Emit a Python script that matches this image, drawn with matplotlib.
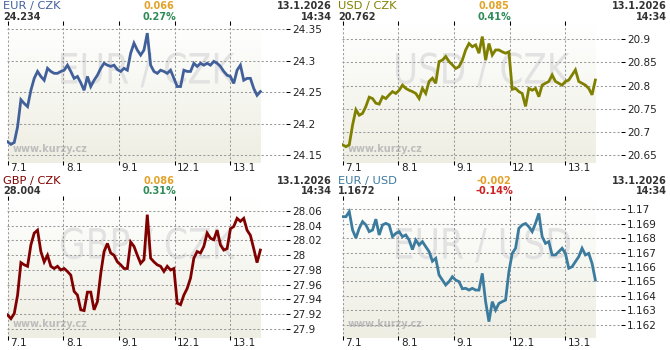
import numpy as np
import matplotlib
matplotlib.use("Agg")
import matplotlib.pyplot as plt
from matplotlib.textpath import TextPath
from matplotlib.patches import PathPatch
from matplotlib.font_manager import FontProperties
from matplotlib.transforms import Affine2D, ScaledTranslation

plt.rcParams['font.family'] = ['DejaVu Sans']

# ---------------- data ----------------
day_labels = ["7.1", "8.1", "9.1", "12.1", "13.1"]
date_text = "13.1.2026"
time_text = "14:34"

eur_czk = [24.171, 24.167, 24.170, 24.195, 24.238, 24.232, 24.227, 24.253, 24.272, 24.283,
           24.275, 24.269, 24.288, 24.283, 24.280, 24.280, 24.283, 24.285, 24.293, 24.283,
           24.272, 24.275, 24.265, 24.253, 24.275, 24.259, 24.269, 24.277, 24.288, 24.296,
           24.293, 24.291, 24.293, 24.286, 24.283, 24.288, 24.285, 24.312, 24.328, 24.317,
           24.309, 24.317, 24.344, 24.293, 24.283, 24.280, 24.285, 24.283, 24.280, 24.285,
           24.272, 24.259, 24.259, 24.285, 24.283, 24.283, 24.296, 24.291, 24.296, 24.293,
           24.296, 24.293, 24.299, 24.296, 24.291, 24.283, 24.277, 24.275, 24.264, 24.285,
           24.293, 24.269, 24.272, 24.272, 24.256, 24.245, 24.251]

usd_czk = [20.672, 20.668, 20.672, 20.715, 20.748, 20.736, 20.740, 20.755, 20.775, 20.772,
           20.762, 20.760, 20.776, 20.772, 20.780, 20.787, 20.783, 20.790, 20.801, 20.794,
           20.790, 20.787, 20.783, 20.772, 20.794, 20.783, 20.809, 20.816, 20.805, 20.852,
           20.855, 20.863, 20.852, 20.845, 20.837, 20.841, 20.855, 20.877, 20.891, 20.884,
           20.888, 20.870, 20.906, 20.855, 20.891, 20.866, 20.877, 20.877, 20.873, 20.870,
           20.873, 20.792, 20.794, 20.787, 20.783, 20.755, 20.794, 20.790, 20.794, 20.776,
           20.801, 20.805, 20.809, 20.823, 20.809, 20.805, 20.801, 20.809, 20.812, 20.823,
           20.834, 20.809, 20.805, 20.801, 20.794, 20.780, 20.812]

gbp_czk = [27.919, 27.914, 27.921, 27.946, 27.990, 27.987, 27.985, 28.014, 28.030, 28.034,
           28.005, 27.991, 28.000, 27.985, 27.982, 27.985, 27.980, 27.982, 27.978, 27.973,
           27.951, 27.946, 27.926, 27.925, 27.950, 27.950, 27.926, 27.937, 27.975, 28.005,
           28.016, 28.003, 28.000, 27.991, 27.987, 27.982, 27.982, 28.018, 28.012, 28.000,
           27.989, 27.994, 28.055, 27.996, 27.991, 27.987, 27.985, 27.978, 27.985, 27.980,
           27.982, 27.935, 27.933, 27.946, 27.955, 27.969, 27.996, 28.005, 28.003, 28.012,
           28.030, 28.023, 28.021, 28.034, 28.014, 28.007, 28.009, 28.036, 28.039, 28.050,
           28.046, 28.050, 28.034, 28.027, 28.009, 27.990, 28.007]

eur_usd = [1.16947, 1.16947, 1.16982, 1.16855, 1.16800, 1.16867, 1.16913, 1.16890, 1.16844, 1.16855,
           1.16930, 1.16821, 1.16890, 1.16901, 1.16890, 1.16809, 1.16832, 1.16844, 1.16809, 1.16821,
           1.16786, 1.16720, 1.16786, 1.16752, 1.16775, 1.16740, 1.16706, 1.16640, 1.16660, 1.16545,
           1.16510, 1.16476, 1.16499, 1.16533, 1.16510, 1.16499, 1.16450, 1.16453, 1.16441, 1.16453,
           1.16441, 1.16441, 1.16556, 1.16361, 1.16223, 1.16361, 1.16303, 1.16349, 1.16361, 1.16372,
           1.16568, 1.16694, 1.16729, 1.16867, 1.16890, 1.16900, 1.16878, 1.16844, 1.16901, 1.16970,
           1.16809, 1.16763, 1.16775, 1.16683, 1.16683, 1.16706, 1.16729, 1.16694, 1.16591, 1.16602,
           1.16637, 1.16671, 1.16729, 1.16683, 1.16694, 1.16625, 1.16510]

titles = ["EUR / CZK", "USD / CZK", "GBP / CZK", "EUR / USD"]
rates = ["24.234", "20.762", "28.004", "1.1672"]
changes = ["0.066", "0.085", "0.086", "-0.002"]
pcts = ["0.27%", "0.41%", "0.31%", "-0.14%"]
series = [eur_czk, usd_czk, gbp_czk, eur_usd]

yticks = [
    [24.15, 24.2, 24.25, 24.3, 24.35],
    [20.65, 20.7, 20.75, 20.8, 20.85, 20.9],
    [27.9, 27.92, 27.94, 27.96, 27.98, 28.0, 28.02, 28.04, 28.06],
    [1.162, 1.163, 1.164, 1.165, 1.166, 1.167, 1.168, 1.169, 1.17],
]
ytick_labels = [
    ["24.15", "24.2", "24.25", "24.3", "24.35"],
    ["20.65", "20.7", "20.75", "20.8", "20.85", "20.9"],
    ["27.9", "27.92", "27.94", "27.96", "27.98", "28", "28.02", "28.04", "28.06"],
    ["1.162", "1.163", "1.164", "1.165", "1.166", "1.167", "1.168", "1.169", "1.17"],
]

# ---------------- style ----------------
line_colors = ["#41609a", "#808000", "#800000", "#3b7b9e"]
pct_colors = ["#2e8b57", "#2e8b57", "#2e8b57", "#cc2222"]
change_color = "#e3a32b"
ylims = [(24.1373, 24.3601), (20.6327, 20.9353), (27.8878, 28.0776), (1.161103, 1.170759)]
offsets = [(0, 0), (335, 0), (0, 175), (335, 175)]
data_end = 4.54

W, H = 670, 350
fig = plt.figure(figsize=(W / 100, H / 100), dpi=100)
fig.patch.set_facecolor("white")


def fx(x):
    return x / W


def fy(y):
    return 1 - y / H


grad = np.linspace(0, 1, 200)[:, None]
top_c = np.array([1.0, 1.0, 1.0])
bot_c = np.array([0xee, 0xee, 0xe3]) / 255.0
grad_img = (top_c[None, None, :] * (1 - grad[..., None]) + bot_c[None, None, :] * grad[..., None])

for i in range(4):
    ox, oy = offsets[i]
    left, right, top, bottom = ox + 7.33, ox + 285.7, oy + 23, oy + 163
    ax = fig.add_axes([fx(left), fy(bottom), (right - left) / W, (bottom - top) / H])
    vals = series[i]
    t = np.linspace(0, data_end, len(vals))
    ylo, yhi = ylims[i]
    ax.set_xlim(-0.005, 4.995)
    ax.set_ylim(ylo, yhi)

    # background gradient under the data range
    ax.imshow(grad_img, extent=[0, data_end, ylo, yhi], aspect="auto",
              origin="upper", zorder=0.1, interpolation="bilinear")

    # watermark
    tp = TextPath((0, 0), titles[i], size=40, prop=FontProperties(family="DejaVu Sans"))
    ext = tp.get_extents()
    cx, cy = ox + 148, oy + 70
    tr = (Affine2D().translate(-ext.x0 - ext.width / 2, -ext.y0 - ext.height / 2)
          .scale(174 / ext.width, 35 / ext.height)
          .translate(cx, H - cy))
    wm = PathPatch(tp, facecolor="#e2e2e2", edgecolor="none", transform=tr, zorder=0.2)
    ax.add_patch(wm)

    # www.kurzy.cz
    ax.text(fx(ox + 13), fy(oy + 149), "www.kurzy.cz", transform=fig.transFigure,
            fontsize=7, fontweight="bold", color="#bdbdbd", ha="left", va="center", zorder=0.3)

    ax.plot(t, vals, color=line_colors[i], linewidth=2.0, zorder=3, solid_joinstyle="miter")

    ax.set_axisbelow(True)
    ax.grid(True, color="#999999", linestyle=(0, (2, 2)), linewidth=0.75)
    for s in ax.spines.values():
        s.set_visible(False)

    ax.set_xticks(range(len(day_labels)))
    ax.set_xticklabels(day_labels)
    ax.tick_params(axis="x", which="both", bottom=True, top=True, direction="inout",
                   length=3, width=0.75, color="black", labelsize=7.5, labelcolor="#222222", pad=-1.2)
    for lab in ax.get_xticklabels():
        lab.set_horizontalalignment("left")
        lab.set_transform(lab.get_transform() + ScaledTranslation(0.025, 0, fig.dpi_scale_trans))

    ax.yaxis.tick_right()
    ax.set_yticks(yticks[i])
    ax.set_yticklabels(ytick_labels[i])
    ax.tick_params(axis="y", direction="out", length=3, width=0.75, color="black",
                   labelsize=7.5, labelcolor="#222222", pad=1.5)

    # header
    fig.text(fx(ox + 3), fy(oy + 6), titles[i], fontsize=8.2, color=line_colors[i],
             ha="left", va="center")
    fig.text(fx(ox + 3), fy(oy + 16.5), rates[i], fontsize=7, fontweight="bold",
             color="#333333", ha="left", va="center")
    fig.text(fx(ox + 159), fy(oy + 6), changes[i], fontsize=7, fontweight="bold",
             color=change_color, ha="center", va="center")
    fig.text(fx(ox + 159), fy(oy + 16.5), pcts[i], fontsize=7, fontweight="bold",
             color=pct_colors[i], ha="center", va="center")
    fig.text(fx(ox + 332), fy(oy + 6), date_text, fontsize=7, fontweight="bold",
             color="#333333", ha="right", va="center")
    fig.text(fx(ox + 332), fy(oy + 16.5), time_text, fontsize=7, fontweight="bold",
             color="#333333", ha="right", va="center")

fig.savefig("out.png", dpi=100, facecolor="white")
